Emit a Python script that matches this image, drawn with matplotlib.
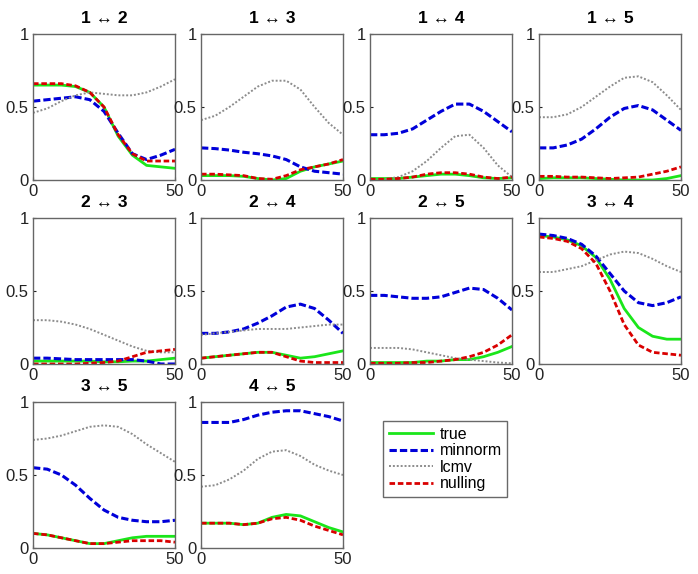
import matplotlib
matplotlib.use("Agg")
import matplotlib.pyplot as plt
import numpy as np

x = [0, 5, 10, 15, 20, 25, 30, 35, 40, 45, 50]

titles = ["1 \u2194 2", "1 \u2194 3", "1 \u2194 4", "1 \u2194 5",
          "2 \u2194 3", "2 \u2194 4", "2 \u2194 5", "3 \u2194 4",
          "3 \u2194 5", "4 \u2194 5"]

true_vals = [
    [0.65, 0.65, 0.65, 0.64, 0.60, 0.50, 0.30, 0.17, 0.10, 0.09, 0.08],
    [0.03, 0.03, 0.03, 0.025, 0.01, 0.00, 0.01, 0.06, 0.09, 0.11, 0.13],
    [0.01, 0.01, 0.01, 0.02, 0.03, 0.04, 0.04, 0.03, 0.015, 0.01, 0.015],
    [0.01, 0.015, 0.015, 0.015, 0.01, 0.005, 0.0, 0.0, 0.0, 0.01, 0.03],
    [0.02, 0.02, 0.02, 0.02, 0.02, 0.015, 0.015, 0.02, 0.02, 0.03, 0.04],
    [0.04, 0.05, 0.06, 0.07, 0.08, 0.08, 0.06, 0.04, 0.05, 0.07, 0.09],
    [0.01, 0.01, 0.01, 0.01, 0.02, 0.02, 0.03, 0.03, 0.05, 0.08, 0.12],
    [0.88, 0.87, 0.85, 0.81, 0.73, 0.58, 0.38, 0.25, 0.19, 0.17, 0.17],
    [0.10, 0.09, 0.07, 0.05, 0.03, 0.03, 0.05, 0.07, 0.08, 0.08, 0.08],
    [0.17, 0.17, 0.17, 0.16, 0.17, 0.21, 0.23, 0.22, 0.18, 0.14, 0.11],
]

minnorm_vals = [
    [0.54, 0.55, 0.56, 0.57, 0.55, 0.47, 0.32, 0.18, 0.14, 0.17, 0.21],
    [0.22, 0.215, 0.205, 0.19, 0.18, 0.165, 0.14, 0.09, 0.06, 0.05, 0.04],
    [0.31, 0.31, 0.32, 0.35, 0.41, 0.47, 0.52, 0.52, 0.47, 0.40, 0.33],
    [0.22, 0.22, 0.24, 0.28, 0.35, 0.43, 0.49, 0.51, 0.48, 0.41, 0.34],
    [0.04, 0.04, 0.035, 0.03, 0.03, 0.03, 0.03, 0.03, 0.02, 0.0, 0.0],
    [0.21, 0.21, 0.22, 0.24, 0.28, 0.33, 0.39, 0.41, 0.38, 0.30, 0.21],
    [0.47, 0.47, 0.46, 0.45, 0.45, 0.46, 0.49, 0.52, 0.51, 0.45, 0.37],
    [0.89, 0.88, 0.86, 0.82, 0.74, 0.62, 0.50, 0.42, 0.40, 0.42, 0.46],
    [0.55, 0.54, 0.50, 0.43, 0.34, 0.26, 0.21, 0.19, 0.18, 0.18, 0.19],
    [0.86, 0.86, 0.86, 0.88, 0.91, 0.93, 0.94, 0.94, 0.92, 0.90, 0.87],
]

lcmv_vals = [
    [0.46, 0.49, 0.54, 0.58, 0.60, 0.59, 0.58, 0.58, 0.60, 0.64, 0.69],
    [0.41, 0.44, 0.50, 0.57, 0.64, 0.68, 0.68, 0.62, 0.50, 0.39, 0.31],
    [0.00, 0.005, 0.02, 0.06, 0.13, 0.22, 0.30, 0.31, 0.22, 0.10, 0.02],
    [0.43, 0.43, 0.45, 0.50, 0.57, 0.64, 0.70, 0.71, 0.67, 0.58, 0.48],
    [0.30, 0.30, 0.29, 0.27, 0.24, 0.20, 0.16, 0.12, 0.09, 0.08, 0.08],
    [0.20, 0.21, 0.22, 0.23, 0.24, 0.24, 0.24, 0.25, 0.26, 0.27, 0.27],
    [0.11, 0.11, 0.11, 0.10, 0.08, 0.06, 0.04, 0.03, 0.02, 0.01, 0.005],
    [0.63, 0.63, 0.65, 0.67, 0.71, 0.75, 0.77, 0.76, 0.72, 0.67, 0.63],
    [0.74, 0.75, 0.77, 0.80, 0.83, 0.84, 0.83, 0.78, 0.71, 0.65, 0.59],
    [0.42, 0.43, 0.47, 0.53, 0.61, 0.66, 0.67, 0.63, 0.57, 0.53, 0.50],
]

nulling_vals = [
    [0.66, 0.66, 0.66, 0.645, 0.60, 0.50, 0.31, 0.18, 0.13, 0.13, 0.13],
    [0.04, 0.04, 0.035, 0.03, 0.01, 0.005, 0.03, 0.07, 0.09, 0.11, 0.14],
    [0.005, 0.005, 0.01, 0.02, 0.04, 0.05, 0.05, 0.04, 0.02, 0.01, 0.02],
    [0.025, 0.025, 0.02, 0.02, 0.015, 0.01, 0.015, 0.02, 0.04, 0.06, 0.09],
    [0.0, 0.0, 0.0, 0.0, 0.005, 0.01, 0.02, 0.05, 0.08, 0.09, 0.10],
    [0.04, 0.05, 0.06, 0.07, 0.08, 0.08, 0.05, 0.02, 0.01, 0.01, 0.01],
    [0.005, 0.005, 0.005, 0.01, 0.01, 0.02, 0.03, 0.05, 0.08, 0.13, 0.20],
    [0.87, 0.86, 0.84, 0.79, 0.69, 0.50, 0.27, 0.13, 0.08, 0.07, 0.06],
    [0.10, 0.09, 0.07, 0.05, 0.03, 0.03, 0.04, 0.05, 0.05, 0.05, 0.04],
    [0.17, 0.17, 0.17, 0.16, 0.17, 0.20, 0.21, 0.19, 0.15, 0.12, 0.09],
]

series_labels = ["true", "minnorm", "lcmv", "nulling"]

W, H = 698, 574
plt.rcParams['font.family'] = ['Liberation Sans', 'DejaVu Sans']
fig = plt.figure(figsize=(W / 100, H / 100), dpi=100)

col_left = [33, 201, 370, 539]
row_top = [34, 218, 402]
aw, ah = 142, 146

handles = None
for i in range(10):
    r, c = divmod(i, 4)
    left = col_left[c] / W
    bottom = 1 - (row_top[r] + ah) / H
    ax = fig.add_axes([left, bottom, aw / W, ah / H])
    h1, = ax.plot(x, true_vals[i], color=(0.1, 0.9, 0.1), lw=2.0, ls='-')
    h2, = ax.plot(x, minnorm_vals[i], color=(0.0, 0.0, 0.85), lw=2.2,
                  ls=(0, (2.4, 1.0)))
    h3, = ax.plot(x, lcmv_vals[i], color=(0.55, 0.55, 0.55), lw=1.4, ls=(0, (1, 1)))
    h4, = ax.plot(x, nulling_vals[i], color=(0.85, 0.0, 0.0), lw=2.0,
                  ls=(0, (2.0, 1.0)))
    handles = [h1, h2, h3, h4]
    ax.set_xlim(0, 50)
    ax.set_ylim(0, 1)
    ax.set_xticks([0, 50])
    ax.set_yticks([0, 0.5, 1])
    ax.set_yticklabels(["0", "0.5", "1"])
    ax.tick_params(direction='in', length=2, labelsize=12, colors='#222222',
                   pad=3)
    for sp in ax.spines.values():
        sp.set_color('#666666')
        sp.set_linewidth(1.0)
    ax.set_title(titles[i], fontsize=12.5, fontweight='bold', pad=8)

leg = fig.legend(handles, series_labels, loc='upper left',
                 bbox_to_anchor=(383 / W, 1 - 421 / H), fontsize=11.5,
                 frameon=True, fancybox=False, handlelength=2.8,
                 borderpad=0.35, labelspacing=0.1, handletextpad=0.4,
                 borderaxespad=0.0)
leg.get_frame().set_edgecolor('#444444')
leg.get_frame().set_linewidth(1.0)

fig.savefig("out.png", dpi=100)
